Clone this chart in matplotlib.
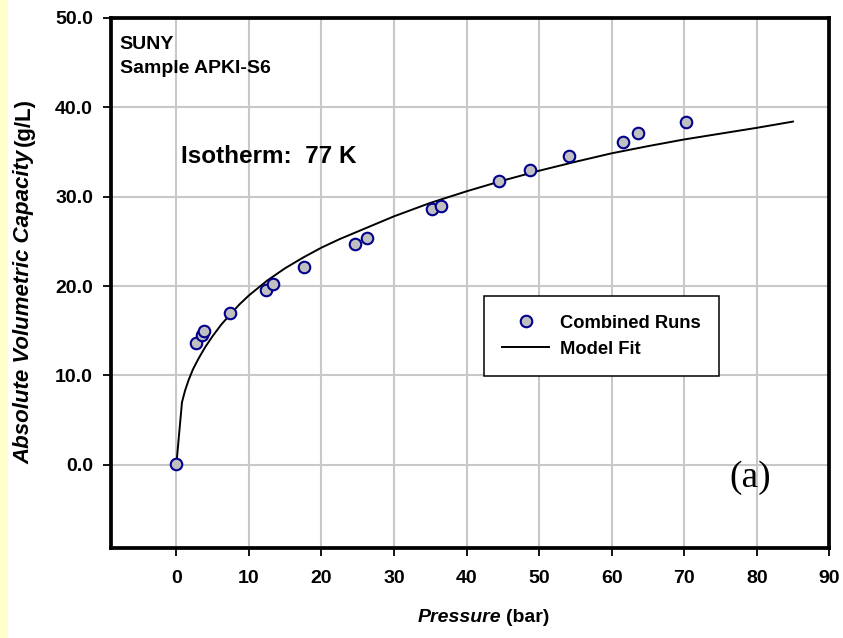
import matplotlib
matplotlib.use("Agg")
import matplotlib.pyplot as plt
from matplotlib.patches import Rectangle

# measured points (pressure in bar, capacity in g/L)
run_p = [0.0, 2.7, 3.5, 3.85, 7.45, 12.3, 13.35, 17.6, 24.65, 26.3,
         35.3, 36.5, 44.5, 48.7, 54.1, 61.6, 63.6, 70.2]
run_q = [0.1, 13.6, 14.5, 15.0, 17.0, 19.6, 20.2, 22.1, 24.75, 25.4,
         28.6, 29.0, 31.7, 33.0, 34.5, 36.1, 37.1, 38.3]

# model fit
fit_p = [0.0, 0.78, 1.2, 1.7, 2.3, 3.1, 4.0, 5.0, 6.2, 7.4, 8.7, 10.0,
         12.5, 15.0, 17.5, 20.0, 22.5, 25.0, 30.0, 35.0, 40.0, 45.0, 50.0,
         55.0, 60.0, 65.0, 70.0, 75.0, 80.0, 85.0]
fit_q = [0.0, 7.0, 8.3, 9.5, 10.7, 11.95, 13.2, 14.4, 15.7, 16.8, 17.95, 18.95,
         20.6, 22.0, 23.2, 24.3, 25.25, 26.1, 27.8, 29.3, 30.6, 31.8, 32.9,
         33.9, 34.85, 35.65, 36.4, 37.05, 37.7, 38.4]

x_ticks = [0, 10, 20, 30, 40, 50, 60, 70, 80, 90]
y_ticks = [0, 10, 20, 30, 40, 50]

plt.rcParams['font.family'] = ['Liberation Sans', 'DejaVu Sans']

fig = plt.figure(figsize=(8.43, 6.38), dpi=100)
fig.patches.append(Rectangle((0, 0), 8 / 843, 1, transform=fig.transFigure,
                             facecolor='#FFFFCC', edgecolor='none', zorder=0))
ax = fig.add_axes([0.1317, 0.141, 0.852, 0.831])

ax.plot(fit_p, fit_q, color='black', lw=1.4, label='Model Fit', zorder=3)
ax.plot(run_p, run_q, 'o', ms=8.3, mfc='#C0C0C0', mec='#00008C', mew=1.5,
        label='Combined Runs', zorder=4)

ax.set_xlim(-9, 90)
ax.set_ylim(-9.3, 50)
ax.set_xticks(x_ticks)
ax.set_yticks(y_ticks)
ax.set_yticklabels(['%.1f' % v for v in y_ticks], fontweight='bold', fontsize=14)
ax.set_xticklabels([str(v) for v in x_ticks], fontweight='bold', fontsize=14)
ax.grid(True, color='#C8C8C8', lw=1.5, zorder=0)
ax.set_axisbelow(True)
for s in ax.spines.values():
    s.set_linewidth(2.7)
ax.tick_params(axis='both', direction='out', length=6, width=1.3)
ax.tick_params(axis='y', pad=7)
ax.tick_params(axis='x', pad=10)

ax.text(-7.8, 46.5, 'SUNY', fontsize=14, fontweight='bold',
        va='baseline', ha='left')
ax.text(-7.8, 43.85, 'Sample APKI-S6', fontsize=14, fontweight='bold',
        va='baseline', ha='left')
ax.text(0.6, 33.8, 'Isotherm:  77 K', fontsize=17.5, fontweight='bold',
        va='baseline', ha='left')
ax.text(79.1, -1.4, '(a)', fontsize=27, family='Liberation Serif',
        va='center', ha='center')

handles, labels = ax.get_legend_handles_labels()
leg = ax.legend(handles[::-1], labels[::-1], loc='upper left',
                bbox_to_anchor=(0.5195, 0.475), borderaxespad=0,
                prop={'weight': 'bold', 'size': 13.2}, fancybox=False,
                edgecolor='black', framealpha=1, borderpad=1.0,
                handlelength=2.55, handletextpad=0.6, labelspacing=0.5)
leg.get_frame().set_linewidth(1.1)

# axis titles with mixed italic / upright parts
fig.canvas.draw()
r = fig.canvas.get_renderer()
yl1 = fig.text(24 / 843, 1 - 464 / 638, 'Absolute Volumetric Capacity',
               rotation=90, fontsize=16, fontweight='bold', style='italic',
               ha='center', va='bottom')
bb = yl1.get_window_extent(r)
fig.text(24 / 843, bb.y1 / fig.bbox.height + 0.006, '(g/L)', rotation=90,
         fontsize=16, fontweight='bold', ha='center', va='bottom')

xl1 = fig.text(418 / 843, 1 - 617 / 638, 'Pressure', fontsize=14,
               fontweight='bold', style='italic', ha='left', va='center')
bb = xl1.get_window_extent(r)
fig.text(bb.x1 / fig.bbox.width + 0.005, 1 - 617 / 638, '(bar)', fontsize=14,
         fontweight='bold', ha='left', va='center')

fig.savefig('out.png', dpi=100)
